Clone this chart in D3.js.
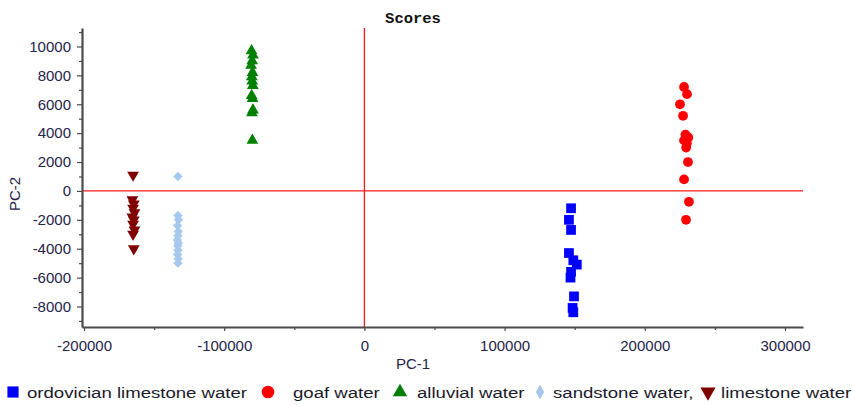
<!DOCTYPE html>
<html>
<head>
<meta charset="utf-8">
<script src="https://cdn.jsdelivr.net/npm/d3@7/dist/d3.min.js"></script>
<style>
  body { margin: 0; background: #fff; }
  text { font-family: "Liberation Sans", Arial, sans-serif; }
</style>
</head>
<body>
<script>
// PCA scores
var ordovicianX = [147400, 145900, 147400, 145900, 149000, 151500, 147400, 147000, 149500, 148500, 149000];
var ordovicianY = [-1200, -2000, -2700, -4300, -4800, -5100, -5600, -6000, -7300, -8100, -8400];

var goafX = [228000, 230100, 225100, 227300, 229000, 231000, 228000, 230000, 229500, 230800, 228000, 231500, 229400];
var goafY = [7200, 6700, 6000, 5200, 3900, 3700, 3500, 3300, 3000, 2000, 800, -750, -2000];

var alluvialX = [-80500, -79500, -80000, -80800, -79800, -80300, -80000, -79600, -80400, -79800, -79500, -80200, -79900];
var alluvialY = [9700, 9400, 9000, 8700, 8200, 7900, 7600, 7300, 6600, 6400, 5600, 5400, 3500];

var sandstoneX = [-133000, -133000, -132600, -133300, -132800, -133000, -133400, -132700, -133100, -132900, -133200, -132800, -133000];
var sandstoneY = [1000, -1700, -2000, -2400, -2800, -3100, -3400, -3600, -3800, -4100, -4400, -4700, -5000];

var limestoneX = [-165000, -165500, -164500, -165000, -164000, -165500, -164500, -165000, -164000, -165000, -164500];
var limestoneY = [1100, -600, -900, -1200, -1500, -1800, -2000, -2300, -2700, -3000, -4000];

var seriesNames = ["ordovician limestone water", "goaf water", "alluvial water", "sandstone water,", "limestone water"];
var xTickValues = d3.range(-200000, 300001, 50000);
var yTickValues = d3.range(-9000, 11001, 1000);

window.onload = function() {

  var W = 852, H = 406;

  // colours and symbols per series
  var colors = ["#0000ff", "#ff0000", "#008000", "#a6c8ee", "#800000"];
  var shapes = [d3.symbolSquare, d3.symbolCircle, d3.symbolTriangle, d3.symbolSquare, d3.symbolTriangle];
  var sizes = [95, 75, 60, 44, 60];
  var rotations = [0, 0, 0, 45, 180];

  var allX = [ordovicianX, goafX, alluvialX, sandstoneX, limestoneX];
  var allY = [ordovicianY, goafY, alluvialY, sandstoneY, limestoneY];

  // make array of points
  var points = [];
  for (var s = 0; s < allX.length; s++) {
    for (var i = 0; i < allX[s].length; i++) {
      points.push({series: s, x: allX[s][i], y: allY[s][i]});
    }
  }

  var svg = d3.select("body")
    .append("svg")
    .attr("width", W)
    .attr("height", H);

  // scales
  var xScale = d3.scaleLinear()
    .domain([-201430, 312840])
    .range([82, 803]);
  var yScale = d3.scaleLinear()
    .domain([-9420, 11280])
    .range([327, 28]);

  // title
  svg.append("text")
    .attr("x", 413)
    .attr("y", 23)
    .attr("text-anchor", "middle")
    .style("font-family", "'Liberation Mono', 'DejaVu Sans Mono', monospace")
    .style("font-weight", "bold")
    .style("font-size", "15.5px")
    .style("fill", "#111")
    .text("Scores");

  // red zero lines
  svg.append("line")
    .attr("x1", xScale(0)).attr("x2", xScale(0))
    .attr("y1", yScale.range()[1]).attr("y2", yScale.range()[0])
    .style("stroke", "#ff1a1a")
    .style("stroke-width", 1.3);
  svg.append("line")
    .attr("x1", xScale.range()[0]).attr("x2", xScale.range()[1])
    .attr("y1", yScale(0)).attr("y2", yScale(0))
    .style("stroke", "#ff1a1a")
    .style("stroke-width", 1.3);

  // axes
  var xAxis = d3.axisBottom(xScale)
    .tickValues(xTickValues)
    .tickSize(4)
    .tickSizeOuter(0)
    .tickPadding(9)
    .tickFormat(function(d) { return d % 100000 === 0 ? String(d) : ""; });
  var yAxis = d3.axisLeft(yScale)
    .tickValues(yTickValues)
    .tickSize(4)
    .tickSizeOuter(0)
    .tickPadding(7)
    .tickFormat(function(d) { return d % 2000 === 0 ? String(d) : ""; });

  var gx = svg.append("g")
    .attr("transform", "translate(0," + yScale.range()[0] + ")")
    .call(xAxis);
  var gy = svg.append("g")
    .attr("transform", "translate(" + xScale.range()[0] + ",0)")
    .call(yAxis);

  [gx, gy].forEach(function(g) {
    g.select(".domain").style("stroke", "#4a4a4a").style("stroke-width", 2.2);
    g.selectAll(".tick line").style("stroke", "#4a4a4a").style("stroke-width", 1.2);
    g.selectAll(".tick text")
      .style("font-family", "'Liberation Sans', Arial, sans-serif")
      .style("font-size", "15px")
      .style("fill", "#24244a");
  });
  gy.selectAll(".tick line").attr("x2", function(d) { return d % 2000 === 0 ? -5 : -3; });
  gx.selectAll(".tick line").attr("y2", function(d) { return d % 100000 === 0 ? 4 : 3; });

  // axis labels
  svg.append("text")
    .attr("x", 413)
    .attr("y", 369)
    .attr("text-anchor", "middle")
    .style("font-size", "15px")
    .style("fill", "#24244a")
    .text("PC-1");
  svg.append("text")
    .attr("text-anchor", "middle")
    .attr("transform", "translate(20,194)rotate(-90)")
    .style("font-size", "15px")
    .style("fill", "#24244a")
    .text("PC-2");

  // the datapoints
  var symbol = d3.symbol();
  svg.selectAll(".dot")
    .data(points)
    .enter()
    .append("path")
    .attr("class", "dot")
    .attr("d", function(d) { return symbol.type(shapes[d.series]).size(sizes[d.series])(); })
    .attr("transform", function(d) {
      return "translate(" + xScale(d.x) + "," + yScale(d.y) + ")rotate(" + rotations[d.series] + ")";
    })
    .style("fill", function(d) { return colors[d.series]; });

  // legend along the bottom
  var legendSymX = [13, 268, 400, 540, 708];
  var legendTextX = [27, 293, 417, 553, 721];
  var legendShapes = [d3.symbolSquare, d3.symbolCircle, d3.symbolTriangle, d3.symbolDiamond, d3.symbolTriangle];
  var legendSizes = [125, 125, 90, 60, 100];
  var legendY = 392;

  var legend = svg.selectAll(".legend")
    .data(seriesNames)
    .enter()
    .append("g")
    .attr("class", "legend");

  legend.append("path")
    .attr("d", function(d, i) { return symbol.type(legendShapes[i]).size(legendSizes[i])(); })
    .attr("transform", function(d, i) {
      return "translate(" + legendSymX[i] + "," + legendY + ")rotate(" + (i === 4 ? 180 : 0) + ")";
    })
    .style("fill", function(d, i) { return colors[i]; });

  legend.append("text")
    .attr("transform", function(d, i) { return "translate(" + legendTextX[i] + "," + (legendY + 6) + ")scale(1.2,1)"; })
    .style("font-size", "15.5px")
    .style("fill", "#1a1a2a")
    .text(function(d) { return d; });
};
</script>
</body>
</html>
